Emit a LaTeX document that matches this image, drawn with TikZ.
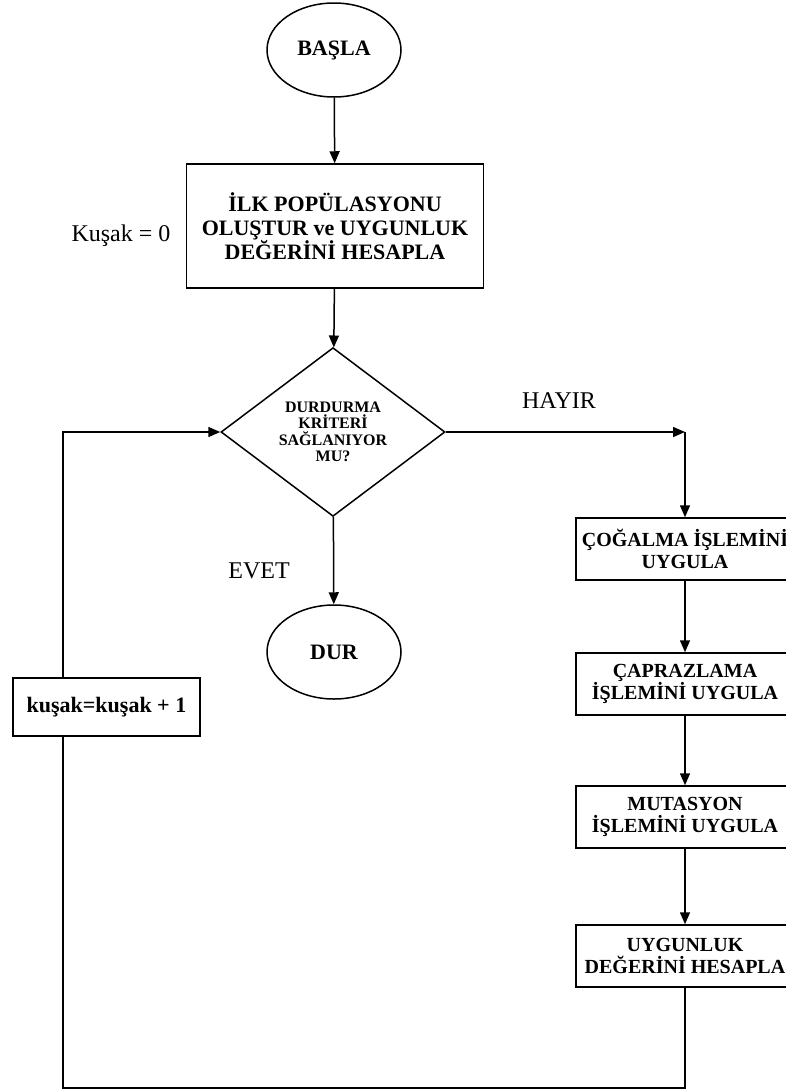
\documentclass[tikz,border=0pt]{standalone}
\usepackage{fontspec}
\setmainfont{Liberation Serif}
\usetikzlibrary{arrows.meta,positioning,shapes.geometric}

\begin{document}
\begin{tikzpicture}[x=1pt, y=-1pt, line width=1.5pt,
  term/.style={draw, ellipse, inner sep=0pt, minimum width=134pt, minimum height=94pt, font=\bfseries\fontsize{22}{24}\selectfont},
  box/.style={draw, rectangle, inner sep=0pt, align=center, font=\bfseries\fontsize{22}{24}\selectfont},
  opbox/.style={draw, rectangle, inner sep=0pt, minimum width=218pt, minimum height=62pt, align=center, font=\bfseries\fontsize{20}{21.5}\selectfont},
  decision/.style={draw, diamond, inner sep=0pt, minimum width=224pt, minimum height=148pt, align=center, font=\bfseries\fontsize{16}{16.5}\selectfont},
  tag/.style={inner sep=0pt, anchor=base, font=\fontsize{24}{26}\selectfont},
  link/.style={-{Triangle[length=12pt,width=10pt]}}
]
\useasboundingbox (0,0) rectangle (786,1090);

% main column
\node[term] (start) at (334,50) {BAŞLA};
\node[box, minimum width=297pt, minimum height=124pt] (init) at (335,226) {İLK POPÜLASYONU\\OLUŞTUR ve UYGUNLUK\\DEĞERİNİ HESAPLA};
\node[decision] (crit) at (333,432) {DURDURMA\\KRİTERİ\\SAĞLANIYOR\\MU?};
\node[term] (stop) at (334,652) {DUR};

% right column
\node[opbox] (repro) at (685,549) {ÇOĞALMA İŞLEMİNİ\\UYGULA};
\node[opbox] (cross) at (685,684) {ÇAPRAZLAMA\\İŞLEMİNİ UYGULA};
\node[opbox] (mutat) at (685,817) {MUTASYON\\İŞLEMİNİ UYGULA};
\node[opbox] (fit) at (685,956) {UYGUNLUK\\DEĞERİNİ HESAPLA};

% counter
\node[box, minimum width=187pt, minimum height=58pt] (gen) at (106.5,707) {kuşak=kuşak + 1};

% labels
\node[tag] (gen0) at (121,241) {Kuşak = 0};
\node[tag] (yes) at (259,578) {EVET};
\node[tag] (no) at (559,408) {HAYIR};

\coordinate (turn) at (repro.north |- crit.east);
\coordinate (low) at (63,1088);

\draw[link] (start) -- (init);
\draw[link] (init) -- (crit);
\draw[link] (crit) -- (stop);
\draw[link] (crit.east) -- (turn);
\draw[link] (turn) -- (repro.north);
\draw[link] (repro) -- (cross);
\draw[link] (cross) -- (mutat);
\draw[link] (mutat) -- (fit);
\draw (fit.south) |- (low) -- (low |- gen.south);
\draw[link] (gen.north -| low) |- (crit.west);
\end{tikzpicture}
\end{document}
